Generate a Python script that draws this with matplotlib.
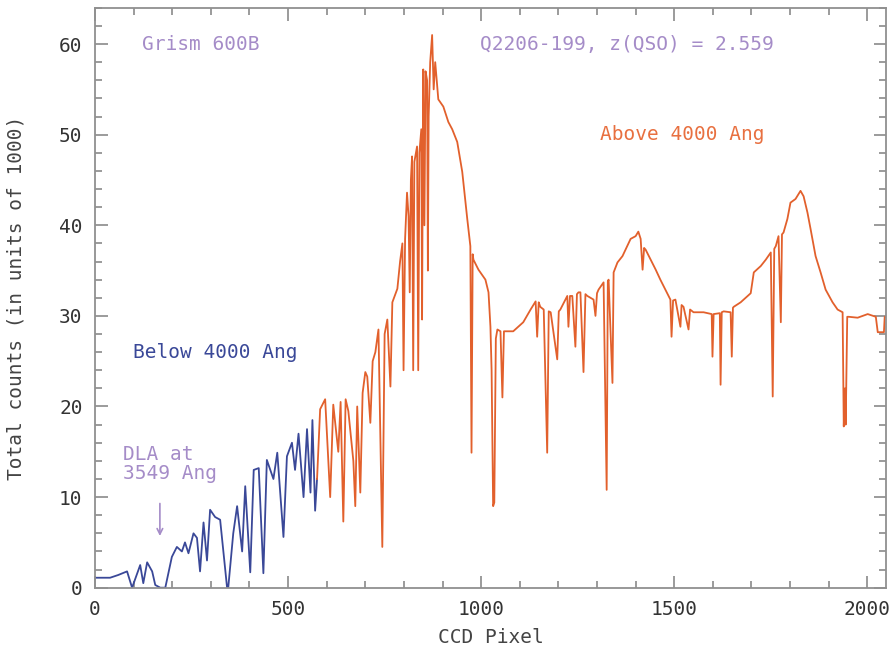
import matplotlib.pyplot as plt
from matplotlib.ticker import MultipleLocator

# Spectrum (CCD pixel, counts / 1000)
blue_pix = [0, 39, 60, 83, 96, 117, 125, 135, 148, 156,
            169, 182, 190, 199, 212, 225, 233, 242, 255, 264,
            272, 281, 290, 298, 311, 324, 342, 345, 358, 368,
            381, 389, 402, 411, 424, 436, 445, 462, 472, 488,
            497, 510, 518, 527, 540, 549, 558, 563, 570, 575]
blue_counts = [1.1, 1.1, 1.4, 1.8, 0.0, 2.5, 0.5, 2.8, 1.8, 0.3,
               0.0, 0.0, 1.6, 3.4, 4.5, 4.0, 5.0, 3.8, 6.0, 5.5,
               1.8, 7.2, 3.0, 8.6, 7.8, 7.5, 0.0, 0.0, 6.0, 9.0,
               4.0, 11.2, 1.7, 13.0, 13.2, 1.6, 14.1, 12.0, 14.9, 5.6,
               14.5, 16.0, 13.0, 17.0, 10.0, 17.5, 10.5, 18.5, 8.5, 12.0]

red_pix = [575, 583, 596, 609, 617, 630, 636, 643, 649, 656,
           669, 674, 679, 687, 693, 700, 705, 713, 719, 726,
           734, 744, 750, 757, 765, 770, 783, 790, 796, 799,
           803, 808, 812, 815, 818, 821, 824, 827, 834, 837,
           840, 845, 847, 849, 850, 853, 856, 860, 862, 864,
           868, 873, 877, 881, 889, 902, 915, 925, 938, 951,
           964, 972, 975, 978, 980, 993, 1011, 1019, 1024, 1027,
           1031, 1034, 1038, 1042, 1050, 1055, 1059, 1083, 1109, 1128,
           1141, 1145, 1149, 1153, 1162, 1171, 1175, 1180, 1197, 1201,
           1205, 1223, 1226, 1230, 1236, 1244, 1248, 1252, 1257, 1265,
           1270, 1275, 1291, 1296, 1300, 1304, 1317, 1325, 1328, 1330,
           1340, 1343, 1353, 1366, 1387, 1400, 1407, 1413, 1418, 1422,
           1426, 1439, 1452, 1464, 1477, 1490, 1493, 1497, 1503, 1516,
           1519, 1524, 1537, 1541, 1550, 1576, 1597, 1599, 1602, 1618,
           1620, 1623, 1628, 1646, 1649, 1652, 1654, 1672, 1690, 1698,
           1706, 1724, 1737, 1750, 1755, 1759, 1763, 1770, 1776, 1779,
           1783, 1793, 1801, 1814, 1827, 1835, 1845, 1853, 1866, 1879,
           1892, 1910, 1923, 1936, 1939, 1942, 1944, 1948, 1952, 1975,
           2001, 2022, 2027, 2043, 2045, 2048]
red_counts = [12.0, 19.7, 20.8, 10.0, 20.2, 15.0, 20.5, 7.3, 20.8, 19.5,
              14.0, 9.0, 20.0, 10.5, 21.5, 23.8, 23.3, 18.2, 25.0, 26.0,
              28.5, 4.5, 28.0, 29.6, 22.2, 31.5, 33.0, 36.0, 38.0, 24.0,
              38.5, 43.6, 41.0, 32.6, 45.0, 47.6, 24.0, 47.0, 48.7, 24.0,
              48.0, 50.6, 29.6, 50.0, 57.2, 40.0, 57.0, 56.0, 35.0, 52.0,
              58.0, 61.0, 55.0, 58.0, 53.9, 53.1, 51.4, 50.6, 49.2, 45.9,
              40.7, 37.7, 14.9, 36.8, 36.2, 35.1, 34.0, 32.6, 28.8, 24.0,
              9.0, 9.4, 27.5, 28.5, 28.3, 21.0, 28.3, 28.3, 29.3, 30.7,
              31.6, 27.7, 31.5, 31.0, 30.7, 14.9, 30.5, 30.4, 25.2, 30.5,
              30.7, 32.2, 28.8, 32.2, 32.2, 26.6, 32.4, 32.6, 32.6, 23.8,
              32.4, 32.2, 31.8, 30.0, 32.5, 32.9, 33.7, 10.8, 33.8, 34.0,
              22.6, 34.8, 35.9, 36.6, 38.5, 38.8, 39.3, 38.5, 35.1, 37.5,
              37.3, 36.2, 35.1, 34.0, 32.9, 31.8, 27.7, 31.7, 31.8, 28.8,
              31.2, 31.0, 28.5, 30.7, 30.4, 30.4, 30.2, 25.5, 30.2, 30.3,
              22.4, 30.4, 30.5, 30.4, 25.5, 30.9, 31.0, 31.5, 32.2, 32.5,
              34.8, 35.5, 36.2, 37.0, 21.1, 37.4, 37.7, 38.8, 29.3, 39.0,
              39.2, 40.7, 42.5, 42.9, 43.8, 43.2, 41.4, 39.6, 36.6, 34.8,
              32.9, 31.5, 30.7, 30.4, 17.8, 22.0, 18.0, 29.9, 29.9, 29.8,
              30.2, 29.9, 28.2, 28.2, 29.9, 29.9]

FONT = "DejaVu Sans Mono"
BLUE = "#3a4898"
RED = "#e2602c"
LILAC = "#a58cc8"

fig = plt.figure(figsize=(8.93, 6.53), dpi=100)
ax = fig.add_axes([0.1064, 0.1, 0.8856, 0.888])

ax.plot(blue_pix, blue_counts, color=BLUE, lw=1.3)
ax.plot(red_pix, red_counts, color=RED, lw=1.3)

ax.set_xlim(0, 2048)
ax.set_ylim(0, 64)

# ticks on all four sides, pointing in
ax.xaxis.set_major_locator(MultipleLocator(500))
ax.xaxis.set_minor_locator(MultipleLocator(100))
ax.yaxis.set_major_locator(MultipleLocator(10))
ax.yaxis.set_minor_locator(MultipleLocator(2))
ax.tick_params(which="both", direction="in", top=True, right=True,
               color="#808080", width=1.1, labelsize=14, labelcolor="#333333", pad=9)
ax.tick_params(which="major", length=9)
ax.tick_params(which="minor", length=5)
for lbl in ax.get_xticklabels() + ax.get_yticklabels():
    lbl.set_family(FONT)
for sp in ax.spines.values():
    sp.set_color("#909090")
    sp.set_linewidth(1.3)

ax.set_xlabel("CCD Pixel", family=FONT, fontsize=14, color="#444444", labelpad=6)
ax.set_ylabel("Total counts (in units of 1000)", family=FONT, fontsize=14,
              color="#444444", labelpad=24)

# annotations
ax.text(122, 60, "Grism 600B", family=FONT, fontsize=14, color=LILAC, va="center")
ax.text(998, 60, "Q2206-199, z(QSO) = 2.559", family=FONT, fontsize=14,
        color=LILAC, va="center")
ax.text(1309, 50, "Above 4000 Ang", family=FONT, fontsize=14, color="#e87040", va="center")
ax.text(99, 26, "Below 4000 Ang", family=FONT, fontsize=14, color=BLUE, va="center")
ax.text(73, 13.7, "DLA at\n3549 Ang", family=FONT, fontsize=14, color=LILAC,
        va="center", linespacing=1.0)
ax.annotate("", xy=(168, 5.4), xytext=(168, 9.6),
            arrowprops=dict(arrowstyle="->", color=LILAC, lw=1.2))

fig.savefig("out.png", dpi=100)
